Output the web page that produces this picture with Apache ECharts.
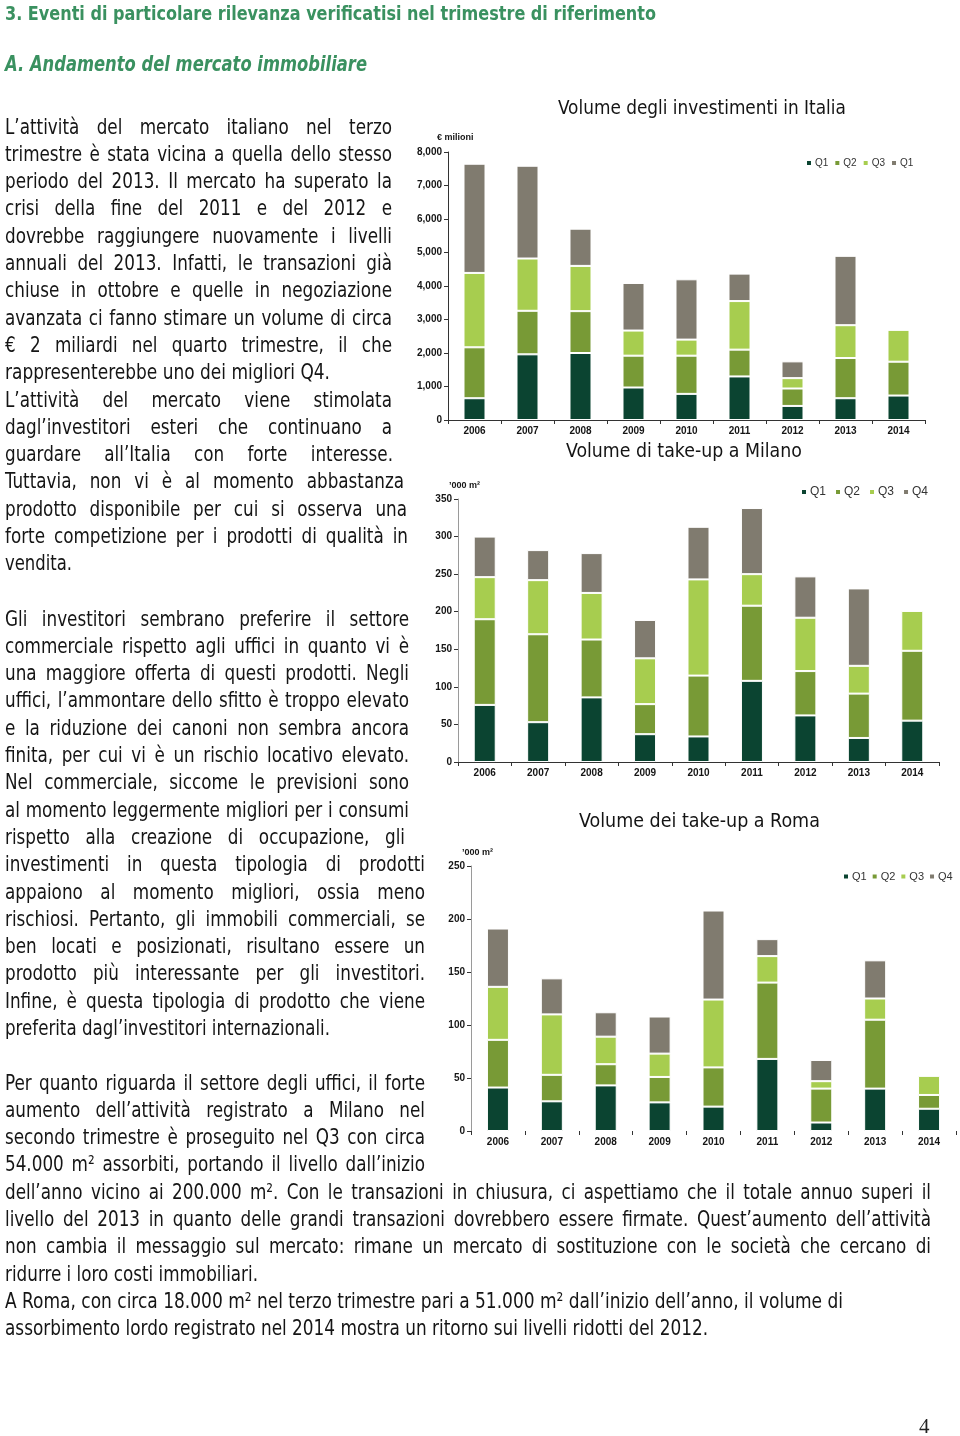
<!DOCTYPE html>
<html><head><meta charset="utf-8">
<script src="https://cdn.jsdelivr.net/npm/echarts@6/dist/echarts.min.js"></script>
<style>
html,body{margin:0;padding:0;background:#fff;}
#page{position:relative;width:960px;height:1436px;overflow:hidden;background:#fff;}
#chart{position:absolute;left:0;top:0;width:960px;height:1436px;}
.ln{position:absolute;white-space:pre;transform-origin:0 0;font-family:'Liberation Sans Narrow','Arial Narrow','DejaVu Sans Condensed','Liberation Sans',sans-serif;font-size:21px;color:#151515;line-height:1;}
.h1{font-weight:bold;color:#3a9160;font-size:20px;}
.h2{font-weight:bold;font-style:italic;color:#3a9160;font-size:22px;}
.pg{position:absolute;left:919px;top:1414px;font-family:'Liberation Serif','DejaVu Serif',serif;font-size:21px;color:#222;}
</style></head>
<body><div id="page"><div id="chart"></div><div class="pg">4</div></div>
<script>
// ---------- DATA ----------
const years = ['2006','2007','2008','2009','2010','2011','2012','2013','2014'];
const quarters = ['Q1','Q2','Q3','Q4'];
// Volume degli investimenti in Italia (€ milioni)
const itQ1 = [650,1960,2000,970,780,1300,420,650,730];
const itQ2 = [1520,1300,1250,950,1140,800,520,1200,1010];
const itQ3 = [2220,1560,1350,750,480,1450,310,980,950];
const itQ4 = [3260,2770,1110,1420,1800,820,500,2070,null];
// Volume di take-up a Milano ('000 m²)
const miQ1 = [76,53,86,37,34,108,62,32,55];
const miQ2 = [114,117,77,40,81,100,59,59,93];
const miQ3 = [56,72,62,61,128,42,71,37,53];
const miQ4 = [54,40,53,51,70,88,55,103,null];
// Volume dei take-up a Roma ('000 m²)
const roQ1 = [41,28,43,27,23,68,8,40,21];
const roQ2 = [45,25,20,24,37,72,32,65,13];
const roQ3 = [50,57,26,22,64,25,7,20,18];
const roQ4 = [55,34,23,35,84,16,20,36,null];
// legend labels as printed in each chart
const legendLabels = [['Q1','Q2','Q3','Q1'],['Q1','Q2','Q3','Q4'],['Q1','Q2','Q3','Q4']];
const chartTitles = ['Volume degli investimenti in Italia','Volume di take-up a Milano','Volume dei take-up a Roma'];
const unitLabels = ['€ milioni','\u2019000 m\u00b2','\u2019000 m\u00b2'];

// ---------- TEXT ----------
const head1 = '3. Eventi di particolare rilevanza verificatisi nel trimestre di riferimento';
const head2 = 'A. Andamento del mercato immobiliare';
const paraA = [
 ['L’attività del mercato italiano nel terzo',392,1],
 ['trimestre è stata vicina a quella dello stesso',392,1],
 ['periodo del 2013. Il mercato ha superato la',392,1],
 ['crisi della fine del 2011 e del 2012 e',392,1],
 ['dovrebbe raggiungere nuovamente i livelli',392,1],
 ['annuali del 2013. Infatti, le transazioni già',392,1],
 ['chiuse in ottobre e quelle in negoziazione',392,1],
 ['avanzata ci fanno stimare un volume di circa',392,1],
 ['€ 2 miliardi nel quarto trimestre, il che',392,1],
 ['rappresenterebbe uno dei migliori Q4.',330,0],
 ['L’attività del mercato viene stimolata',392,1],
 ['dagl’investitori esteri che continuano a',392,1],
 ['guardare all’Italia con forte interesse.',393,1],
 ['Tuttavia, non vi è al momento abbastanza',404,1],
 ['prodotto disponibile per cui si osserva una',407,1],
 ['forte competizione per i prodotti di qualità in',408,1],
 ['vendita.',72,0]
];
const paraB = [
 ['Gli investitori sembrano preferire il settore',409,1],
 ['commerciale rispetto agli uffici in quanto vi è',409,1],
 ['una maggiore offerta di questi prodotti. Negli',409,1],
 ['uffici, l’ammontare dello sfitto è troppo elevato',409,1],
 ['e la riduzione dei canoni non sembra ancora',409,1],
 ['finita, per cui vi è un rischio locativo elevato.',409,1],
 ['Nel commerciale, siccome le previsioni sono',409,1],
 ['al momento leggermente migliori per i consumi',409,1],
 ['rispetto alla creazione di occupazione, gli',405,1],
 ['investimenti in questa tipologia di prodotti',425,1],
 ['appaiono al momento migliori, ossia meno',425,1],
 ['rischiosi. Pertanto, gli immobili commerciali, se',425,1],
 ['ben locati e posizionati, risultano essere un',425,1],
 ['prodotto più interessante per gli investitori.',425,1],
 ['Infine, è questa tipologia di prodotto che viene',425,1],
 ['preferita dagl’investitori internazionali.',330,0]
];
const paraC = [
 ['Per quanto riguarda il settore degli uffici, il forte',425,1],
 ['aumento dell’attività registrato a Milano nel',425,1],
 ['secondo trimestre è proseguito nel Q3 con circa',425,1],
 ['54.000 m² assorbiti, portando il livello dall’inizio',425,1],
 ['dell’anno vicino ai 200.000 m². Con le transazioni in chiusura, ci aspettiamo che il totale annuo superi il',931,1],
 ['livello del 2013 in quanto delle grandi transazioni dovrebbero essere firmate. Quest’aumento dell’attività',931,1],
 ['non cambia il messaggio sul mercato: rimane un mercato di sostituzione con le società che cercano di',931,1],
 ['ridurre i loro costi immobiliari.',258,0],
 ['A Roma, con circa 18.000 m² nel terzo trimestre pari a 51.000 m² dall’inizio dell’anno, il volume di',843,0],
 ['assorbimento lordo registrato nel 2014 mostra un ritorno sui livelli ridotti del 2012.',708,0]
];

const page = document.getElementById('page');
const LEFT = 5;
function makeLine(text, topY, cls){
  const d = document.createElement('div');
  d.className = 'ln' + (cls ? ' ' + cls : '');
  d.textContent = text;
  d.style.left = LEFT + 'px';
  d.style.top = topY + 'px';
  page.appendChild(d);
  return d;
}
function layoutText(){
  const items = [];
  const blocks = [[paraA,125],[paraB,617],[paraC,1081]];
  blocks.forEach(([lines,y0])=>{
    lines.forEach((l,i)=>{
      const yc = y0 + i*27.3;
      const el = makeLine(l[0], yc + 10 - 18.5, '');
      items.push({el, right:l[1], just:l[2], text:l[0]});
    });
  });
  items.forEach(it=>{ it.w = it.el.getBoundingClientRect().width; });
  const ratios = items.filter(it=>!it.just).map(it=>(it.right-LEFT)/it.w);
  const s0 = ratios.reduce((a,b)=>a+b,0)/ratios.length;
  items.forEach(it=>{
    const T = it.right - LEFT;
    let s, ws = 0;
    if (it.just){
      s = s0;
      const nSp = (it.text.match(/ /g)||[]).length;
      let extra = T/s - it.w;
      if (extra < 0 || nSp === 0){ s = T/it.w; extra = 0; }
      ws = nSp ? extra/nSp : 0;
    } else {
      s = T/it.w;
    }
    it.el.style.wordSpacing = ws + 'px';
    it.el.style.transform = 'scaleX(' + s + ')';
  });
  const h1 = makeLine(head1, 20 - 17, 'h1');
  const h2 = makeLine(head2, 72 - 19, 'h2');
  [[h1,656],[h2,367]].forEach(([el,r])=>{
    const w = el.getBoundingClientRect().width;
    el.style.transform = 'scaleX(' + ((r-LEFT)/w) + ')';
  });
}

// ---------- CHARTS ----------
const narrow = "'Liberation Sans Narrow','Arial Narrow','DejaVu Sans Condensed','Liberation Sans',sans-serif";
const colors = ['#0b4431','#789a36','#a7cd4f','#807b6f'];
function fitSize(text, target, base){
  const c = document.createElement('canvas').getContext('2d');
  c.font = base + 'px ' + narrow;
  const w = c.measureText(text).width;
  return Math.min(base*1.15, base*target/w);
}
function drawCharts(){
  const chart = echarts.init(document.getElementById('chart'), null, {renderer:'canvas'});
  const grids = [
    {left:448, top:152, width:477, height:268},
    {left:458, top:499, width:481, height:263},
    {left:471, top:866, width:485, height:265}
  ].map(g=>Object.assign(g,{containLabel:false, outerBoundsMode:'none'}));
  const yMax = [8000,350,250], yInt = [1000,50,50];
  const yLineCol = ['#333','#9a9a9a','#9a9a9a'];
  const labelFont = {fontSize:10, fontWeight:'bold', color:'#151515', fontFamily:"'Liberation Sans',Arial,sans-serif"};
  const xAxis = [0,1,2].map(i=>({
    type:'category', gridIndex:i, data:years,
    axisLine:{show:i!==2, lineStyle:{color:'#333', width:1}},
    axisTick:{show:true, length:4, lineStyle:{color:'#333'}},
    axisLabel:Object.assign({margin:6}, labelFont)
  }));
  const yAxis = [0,1,2].map(i=>({
    type:'value', gridIndex:i, min:0, max:yMax[i], interval:yInt[i],
    splitLine:{show:false},
    axisLine:{show:true, lineStyle:{color:yLineCol[i], width:1}},
    axisTick:{show:true, length:4, lineStyle:{color:'#333'}},
    axisLabel:Object.assign({margin:6, formatter:v=>v.toLocaleString('en-US')}, labelFont)
  }));
  const dataSets = [[itQ1,itQ2,itQ3,itQ4],[miQ1,miQ2,miQ3,miQ4],[roQ1,roQ2,roQ3,roQ4]];
  const series = [];
  dataSets.forEach((set,ci)=>{
    set.forEach((arr,qi)=>{
      series.push({type:'bar', name:quarters[qi], stack:'s'+ci, xAxisIndex:ci, yAxisIndex:ci,
        data:arr, barWidth:22,
        itemStyle:{color:colors[qi], borderColor:'#ffffff', borderWidth:1},
        emphasis:{disabled:true}});
    });
  });
  const titleSpecs = [[558,846,111],[566,802,454],[579,820,825]];
  const titles = chartTitles.map((t,i)=>{
    const fs = fitSize(t, titleSpecs[i][1]-titleSpecs[i][0], 22);
    return {text:t, left:titleSpecs[i][0], top:titleSpecs[i][2]-fs*0.62, padding:0,
      textStyle:{fontFamily:narrow, fontSize:fs, fontWeight:'normal', color:'#141414'}};
  });
  const unitPos = [[437,133],[449,481],[462,848]];
  unitLabels.forEach((u,i)=>{
    titles.push({text:u, left:unitPos[i][0], top:unitPos[i][1], padding:0,
      textStyle:{fontFamily:"'Liberation Sans',Arial,sans-serif", fontSize:9, fontWeight:'bold', color:'#151515'}});
  });
  const legPos = [[805,158,10,6,5],[800,486,12,6,8],[842,871,11,6,4]];
  const legend = legPos.map((p,i)=>({
    data:quarters, left:p[0], top:p[1], padding:0, orient:'horizontal',
    icon:'rect', itemWidth:p[3], itemHeight:p[3], itemGap:p[4], selectedMode:false,
    textStyle:{fontSize:p[2], color:'#333', fontFamily:"'Liberation Sans',Arial,sans-serif", padding:[0,0,0,-2]},
    formatter:name=>legendLabels[i][quarters.indexOf(name)]
  }));
  chart.setOption({animation:false, title:titles, legend, grid:grids, xAxis, yAxis, series});
}

function start(){ layoutText(); drawCharts(); }
if (document.fonts && document.fonts.ready){ document.fonts.ready.then(start); } else { start(); }
</script>
</body></html>
